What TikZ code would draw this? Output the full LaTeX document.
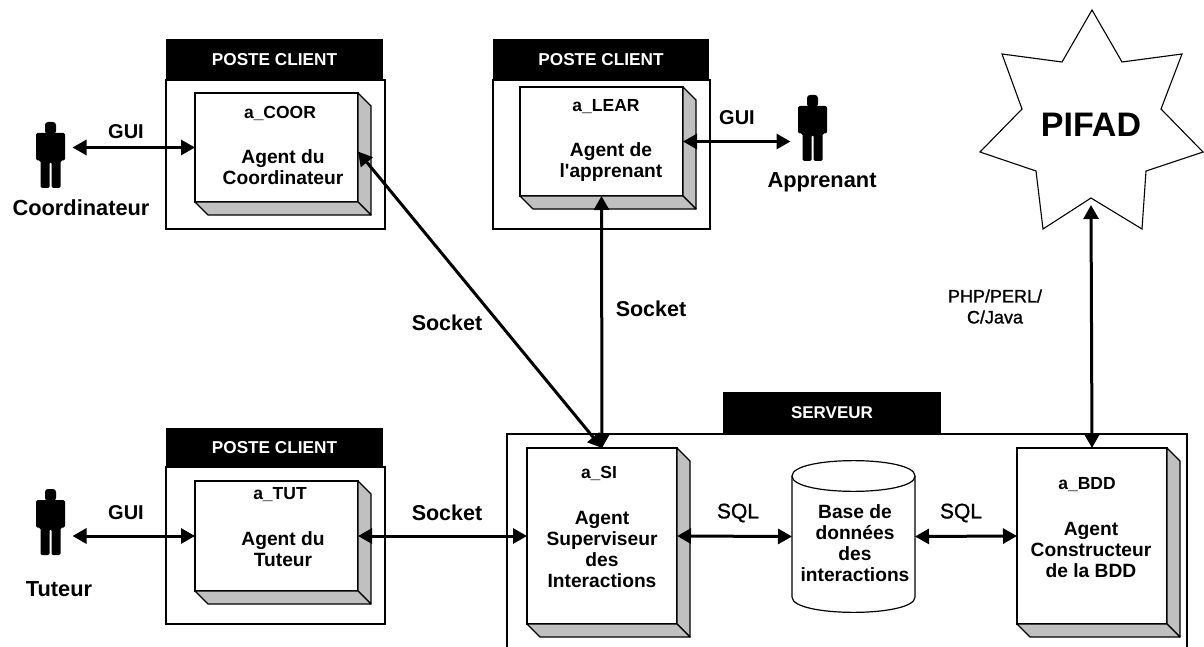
\documentclass[tikz,border=0pt]{standalone}
\usepackage{fontspec}
\setmainfont{Liberation Sans}
\newfontfamily\medfont[FakeBold=1.2]{Liberation Sans}
\newfontfamily\aposfont{Liberation Sans}
\usetikzlibrary{arrows.meta,calc}
\definecolor{shade}{HTML}{C0C0C0}
\newcommand{\fs}[1]{\fontsize{#1}{21}\selectfont}
\tikzset{
  boxline/.style={draw=black,line width=1.4pt},
  clientbox/.style={boxline,fill=white,inner sep=0pt,outer sep=0pt},
  titlebox/.style={fill=black,text=white,font=\bfseries\fs{17.2},inner sep=0pt,outer sep=0pt},
  agentface/.style={boxline,fill=white,inner sep=0pt,outer sep=0pt},
  sideface/.style={boxline,line width=1.2pt,fill=shade,line join=round},
  agentid/.style={font=\bfseries\fs{17.5},inner sep=0pt},
  agentname/.style={font=\bfseries\fs{19.2},align=center,inner sep=0pt},
  actor/.style={font=\bfseries\fs{21.8},inner sep=0pt},
  proto/.style={font=\bfseries\fs{20},inner sep=0pt},
  protolight/.style={font=\medfont\fs{21},inner sep=0pt},
  socket/.style={font=\bfseries\fs{21.5},inner sep=0pt},
  personbox/.style={minimum width=30pt,minimum height=66pt,inner sep=0pt,outer sep=7pt},
  biarrow/.style={line width=3pt,{Triangle[length=14pt,width=15pt]}-{Triangle[length=14pt,width=15pt]}},
}
\newcommand{\agent}[5]{%
  \node[agentface,minimum width=#4pt,minimum height=#5pt] (#1) at (#2,#3) {};
  \draw[sideface] (#1.north east) -- ++(13,13) -- ($(#1.south east)+(13,13)$) -- (#1.south east) -- cycle;
  \draw[sideface] (#1.south west) -- ++(13,13) -- ($(#1.south east)+(13,13)$) -- (#1.south east) -- cycle;
}
\newcommand{\person}[3]{%
  \node[personbox] (#1) at (#2,#3) {};
  \begin{scope}[shift={(#2,#3)}]
    \fill[black,rounded corners=3pt] (-5.5,-33) rectangle (5.5,-21);
    \fill[black,rounded corners=1.5pt] (-14.5,-22) -- (14.5,-22) -- (14.5,5.5) -- (10,5.5) -- (10,33) -- (1,33) -- (1,7) -- (-1,7) -- (-1,33) -- (-10,33) -- (-10,5.5) -- (-14.5,5.5) -- cycle;
  \end{scope}
}
\begin{document}
\begin{tikzpicture}[x=1pt,y=-1pt]
\useasboundingbox[fill=white] (0,0) rectangle (1204,647);

% client boxes
\node[clientbox,minimum width=219pt,minimum height=149pt] (client1) at (275.5,154.5) {};
\node[titlebox,minimum width=217pt,minimum height=41pt] (title1) at (274.5,59.5) {POSTE CLIENT\hspace{5pt}};
\node[clientbox,minimum width=217pt,minimum height=149pt] (client2) at (601.5,154.5) {};
\node[titlebox,minimum width=216pt,minimum height=41pt] (title2) at (601,59.5) {POSTE CLIENT\hspace{7pt}};
\node[clientbox,minimum width=219pt,minimum height=157pt] (client3) at (275.5,545.5) {};
\node[titlebox,minimum width=217pt,minimum height=39pt] (title3) at (274.5,447.5) {POSTE CLIENT\hspace{5pt}};

% server
\draw[boxline] (507,647) -- (507,434) -- (1187,434) -- (1187,647);
\node[titlebox,font=\bfseries\fs{17},minimum width=218pt,minimum height=42pt] (title4) at (832,413) {SERVEUR\hspace{8pt}};

% agents
\agent{coor}{276.5}{147.5}{163}{109}
\agent{lear}{601.5}{141.5}{163}{109}
\agent{tut}{276.5}{536}{163}{110}
\agent{si}{602}{536}{150}{176}
\agent{bdd}{1092}{536}{150}{176}

\node[agentid] (coorid) at (280,113) {a\_COOR};
\node[agentname] (coorname) at (283,167.5) {Agent du\\Coordinateur};
\node[agentid] (learid) at (606,107) {a\_LEAR};
\node[agentname] (learname) at (611,162) {Agent de\\{\aposfont\bfseries\fs{19.2}l'apprenant}};
\node[agentid] (tutid) at (280,495) {a\_TUT};
\node[agentname] (tutname) at (283,549.5) {Agent du\\Tuteur};
\node[agentid] (siid) at (599,473) {a\_SI};
\node[agentname] (siname) at (602,549.5) {Agent\\Superviseur\\des\\Interactions};
\node[agentid] (bddid) at (1087,485) {a\_BDD};
\node[agentname] (bddname) at (1091,550) {Agent\\Constructeur\\de la BDD};

% database
\node[minimum width=123pt,minimum height=151pt,inner sep=0pt,outer sep=0pt] (db) at (853.5,536.5) {};
\draw[boxline,line width=1.2pt,fill=white] (db.west |- 0,476) -- (db.west |- 0,597)
  .. controls (792,617.5) and (915,617.5) .. (db.east |- 0,597) -- (db.east |- 0,476);
\draw[boxline,line width=1.2pt,fill=white] (792,476) .. controls (792,455.5) and (915,455.5) .. (915,476)
  .. controls (915,496.5) and (792,496.5) .. (792,476) -- cycle;
\node[agentname] (dbname) at (855,543.5) {Base de\\données\\des\\interactions};

% star
\coordinate (starin) at (1091,198);
\draw[black,line width=1.1pt,fill=white,line join=miter] (1092,10) -- (1122,62) -- (1182,54) -- (1161,109) -- (1203,152) -- (1146,171) -- (1142,229) -- (starin) -- (1043,229) -- (1036,171) -- (980,152) -- (1022,109) -- (1002,54) -- (1062,62) -- cycle;
\node[font=\bfseries\fs{34},inner sep=0pt] (pifad) at (1091,125) {PIFAD};

% persons
\person{pc}{50.5}{155}
\person{pt}{50.5}{522}
\person{pa}{812.5}{128}
\node[actor] (pcname) at (81,208) {Coordinateur};
\node[actor] (ptname) at (59,589) {Tuteur};
\node[actor] (paname) at (822,182) {Apprenant};

% connectors
\draw[biarrow] (coor.west -| pc.east) -- (coor.west);
\draw[biarrow] (tut.west -| pt.east) -- (tut.west);
\draw[biarrow] (lear.east) -- (lear.east -| pa.west);
\draw[biarrow] ([yshift=-4pt]coor.east) -- (si.north);
\draw[biarrow] (lear.south) -- (si.north);
\draw[biarrow] (tut.east) -- (si.west);
\draw[biarrow] (si.east) -- (db.west);
\draw[biarrow] (db.east) -- (bdd.west);
\draw[biarrow] ([yshift=-7pt]starin) -- (bdd.north);

% connector labels
\node[proto] (gui1) at (126,132) {GUI};
\node[proto] (gui2) at (737,118) {GUI};
\node[proto] (gui3) at (126,513) {GUI};
\node[socket] (sock1) at (447,323) {Socket};
\node[socket] (sock2) at (651,309) {Socket};
\node[socket] (sock3) at (447,513) {Socket};
\node[protolight] (sql1) at (738,513) {SQL};
\node[protolight] (sql2) at (961,513) {SQL};
\node[font=\medfont\fs{18},align=center,inner sep=0pt] (php) at (995,306.5) {PHP/PERL/\\C/Java};
\end{tikzpicture}
\end{document}
